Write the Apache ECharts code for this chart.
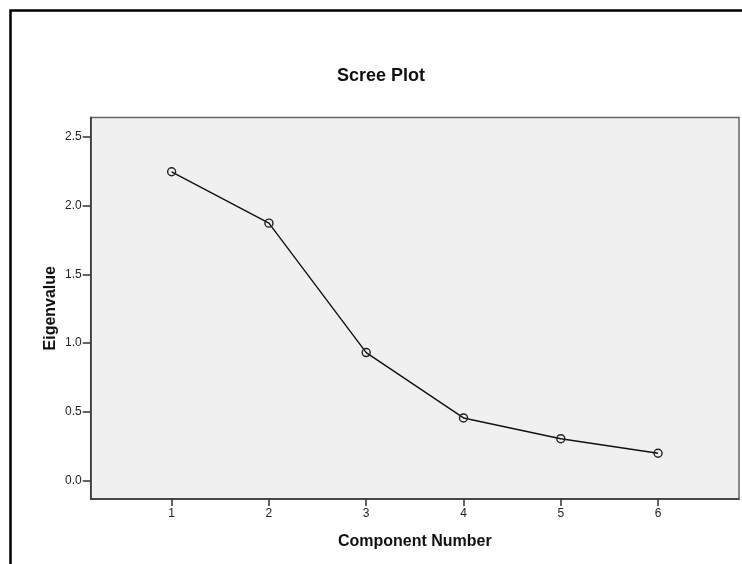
<!DOCTYPE html>
<html>
<head>
<meta charset="utf-8">
<script src="https://cdn.jsdelivr.net/npm/echarts@6/dist/echarts.min.js"></script>
<style>
  html, body { margin: 0; padding: 0; background: #fff; }
  #main { width: 742px; height: 564px; }
</style>
</head>
<body>
<div id="main"></div>
<script>
// scree plot values
var components = [1, 2, 3, 4, 5, 6];
var eigenvalues = [2.247, 1.873, 0.931, 0.455, 0.304, 0.198];
var xTicks = [1, 2, 3, 4, 5, 6];
var yTicks = [0, 0.5, 1.0, 1.5, 2.0, 2.5];

var myChart = echarts.init(document.getElementById('main'));

var font = '"Liberation Sans", Arial, sans-serif';

var option = {
    backgroundColor: '#fff',
    animation: false,
    title: {
        text: 'Scree Plot',
        left: 337,
        top: 67,
        padding: 0,
        textStyle: {
            fontFamily: font,
            fontSize: 18,
            fontWeight: 'bold',
            color: '#111'
        }
    },
    graphic: [{
        type: 'rect',
        shape: { x: 10.5, y: 10.5, width: 1000, height: 1000 },
        style: { fill: 'none', stroke: '#000', lineWidth: 2.5 },
        silent: true
    }],
    grid: {
        left: 90.7,
        top: 117.5,
        right: 3,
        bottom: 65,
        show: true,
        backgroundColor: '#f0f0f0',
        borderColor: '#666',
        borderWidth: 1.5
    },
    xAxis: {
        type: 'value',
        min: 0.168,
        max: 6.832,
        name: 'Component Number',
        nameLocation: 'middle',
        nameGap: 35,
        nameMoveOverlap: false,
        nameTextStyle: {
            fontFamily: font,
            fontSize: 16,
            fontWeight: 'bold',
            color: '#111'
        },
        splitLine: { show: false },
        axisLine: { show: true, onZero: false, lineStyle: { color: '#333', width: 1.5 } },
        axisTick: {
            show: true,
            length: 7,
            customValues: xTicks,
            lineStyle: { color: '#333', width: 1.5 }
        },
        axisLabel: {
            customValues: xTicks,
            margin: 9,
            fontFamily: font,
            fontSize: 12,
            color: '#222'
        }
    },
    yAxis: {
        type: 'value',
        min: -0.135,
        max: 2.642,
        name: 'Eigenvalue',
        nameLocation: 'middle',
        nameGap: 32,
        nameMoveOverlap: false,
        nameTextStyle: {
            fontFamily: font,
            fontSize: 16,
            fontWeight: 'bold',
            color: '#111'
        },
        splitLine: { show: false },
        axisLine: { show: true, onZero: false, lineStyle: { color: '#333', width: 1.5 } },
        axisTick: {
            show: true,
            length: 8,
            customValues: yTicks,
            lineStyle: { color: '#333', width: 1.5 }
        },
        axisLabel: {
            customValues: yTicks,
            margin: 9,
            fontFamily: font,
            fontSize: 12,
            color: '#222',
            formatter: function (v) { return v.toFixed(1); }
        }
    },
    series: [{
        type: 'line',
        data: components.map(function (c, i) { return [c, eigenvalues[i]]; }),
        symbol: 'circle',
        symbolSize: 8,
        lineStyle: { color: '#111', width: 1.4 },
        itemStyle: { color: 'rgba(0,0,0,0)', borderColor: '#222', borderWidth: 1.4 }
    }]
};

myChart.setOption(option);
</script>
</body>
</html>
